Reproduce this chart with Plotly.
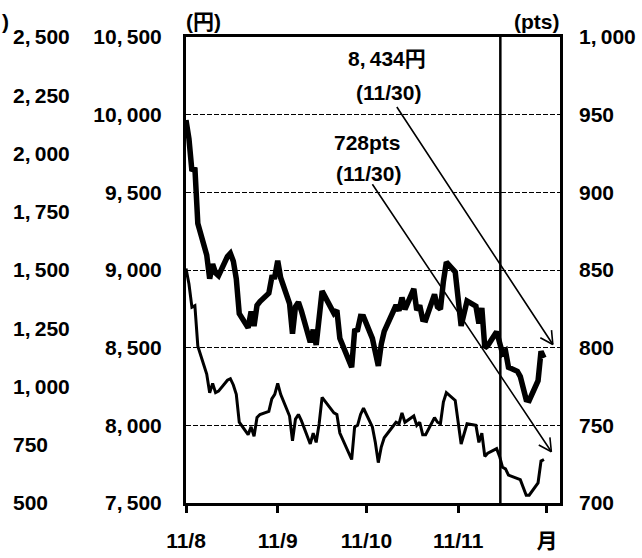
import math
import plotly.graph_objects as go

# Trading days, Aug-Nov 2011
aug = [1, 2, 3, 4, 5, 8, 9, 10, 11, 12, 15, 16, 17, 18, 19, 22, 23, 24, 25, 26, 29, 30, 31]
sep = [1, 2, 5, 6, 7, 8, 9, 12, 13, 14, 15, 16, 20, 21, 22, 26, 27, 28, 29, 30]
octo = [3, 4, 5, 6, 7, 11, 12, 13, 14, 17, 18, 19, 20, 21, 24, 25, 26, 27, 28, 31]
nov = [1, 2, 4, 7, 8, 9, 10, 11, 14, 15, 16, 17, 18, 21, 22, 24, 25, 28, 29, 30]
dates = ([f"2011-08-{d:02d}" for d in aug] + [f"2011-09-{d:02d}" for d in sep]
         + [f"2011-10-{d:02d}" for d in octo] + [f"2011-11-{d:02d}" for d in nov])

# Nikkei average (yen, left axis)
nikkei = [9965, 9844, 9637, 9659, 9299, 9097, 8944, 9038, 8981, 8963, 9086, 9107, 9057, 8943,
          8719, 8628, 8733, 8639, 8772, 8797, 8851, 8953, 8955,
          9060, 8950, 8784, 8590, 8763, 8793, 8737, 8535, 8616, 8518, 8668, 8864, 8721, 8741,
          8560, 8374, 8609, 8615, 8701, 8700,
          8560, 8456, 8382, 8522, 8605, 8773, 8738, 8823, 8747, 8879, 8741, 8772, 8682, 8678,
          8843, 8762, 8748, 8926, 9050, 8988,
          8835, 8640, 8801, 8767, 8655, 8755, 8500, 8514, 8603, 8541, 8463, 8479, 8374, 8348,
          8314, 8165, 8160, 8287, 8477, 8434]

# TOPIX (pts, right axis)
topix = [851, 841, 826, 827, 801, 783, 771, 777, 771, 772, 779, 780, 776, 770,
         752, 744, 749, 743, 755, 757, 759, 767, 770,
         777, 770, 756, 740, 754, 757, 753, 738, 745, 739, 751, 768, 758, 757,
         745, 728, 749, 750, 757, 761,
         749, 739, 726, 736, 742, 752, 751, 758, 752, 756, 750, 752, 744, 744,
         755, 752, 751, 765, 771, 766,
         752, 738, 751, 750, 739, 745, 730, 732, 735, 730, 723, 722, 718, 716,
         715, 705, 705, 713, 727, 728]

# Axis ticks
yen_ticks = [7500, 8000, 8500, 9000, 9500, 10000, 10500]
pts_ticks = [700, 750, 800, 850, 900, 950, 1000]
aux_ticks = [500, 750, 1000, 1250, 1500, 1750, 2000, 2250, 2500]
month_ticks = ["2011-08-01", "2011-09-01", "2011-10-01", "2011-11-01", "2011-12-01"]
month_labels = ["11/8", "11/9", "11/10", "11/11", "月"]


def fmt(v):
    return f"{v:,}".replace(",", ",\u2009")


FONT = "Liberation Sans, Arial, Noto Sans CJK JP, sans-serif"
FS = 21
W, H = 642, 558
ML, MR, MT, MB = 0, 82, 37, 55
PW = W - ML - MR
PH = H - MT - MB
X0 = 186  # left edge of the plotting frame


def px(x):
    return (x - ML) / PW


def py(y):
    return (H - MB - y) / PH


def tfont():
    return dict(family=FONT, size=FS, color="black", weight="bold")


fig = go.Figure()
fig.add_trace(go.Scatter(x=dates, y=nikkei, mode="lines", yaxis="y",
                         line=dict(color="black", width=5.5), hoverinfo="skip"))
fig.add_trace(go.Scatter(x=dates, y=topix, mode="lines", yaxis="y2",
                         line=dict(color="black", width=3), hoverinfo="skip"))
# carrier for the outer auxiliary scale
fig.add_trace(go.Scatter(x=[dates[0], dates[0]], y=[aux_ticks[0], aux_ticks[-1]], mode="lines",
                         yaxis="y3", line=dict(color="rgba(0,0,0,0)", width=0), hoverinfo="skip"))

# Separator line in mid-November
fig.add_shape(type="line", xref="x", yref="paper", x0="2011-11-15 06:00", x1="2011-11-15 06:00",
              y0=0, y1=1, line=dict(color="black", width=2.5))

annotations = []
# callout arrows: (tip date, tip yen, tail offset dx, dy in pixels)
arrows = [("2011-12-03", 8520, -157, -239), ("2011-12-02 12:00", 7830, -180, -269)]
for tx, ty, dx, dy in arrows:
    annotations.append(dict(x=tx, y=ty, xref="x", yref="y", ax=dx, ay=dy, text="",
                            showarrow=True, arrowhead=0, arrowwidth=1.6, arrowcolor="black",
                            standoff=0, startstandoff=0))
    n = math.hypot(dx, dy)
    bx, by = dx / n, dy / n
    for ang in (28, -28):
        a = math.radians(ang)
        rx = bx * math.cos(a) - by * math.sin(a)
        ry = bx * math.sin(a) + by * math.cos(a)
        annotations.append(dict(x=tx, y=ty, xref="x", yref="y", ax=rx * 16, ay=ry * 16, text="",
                                showarrow=True, arrowhead=0, arrowwidth=1.6, arrowcolor="black",
                                standoff=0, startstandoff=0))

labels = [("8,\u2009434円", 387, 59), ("(11/30)", 388, 92), ("728pts", 367, 142),
          ("(11/30)", 368, 174), ("(円)", 203, 22), ("(pts)", 537, 22)]
for t, x, y in labels:
    annotations.append(dict(text=t, x=px(x), y=py(y), xref="paper", yref="paper",
                            xanchor="center", yanchor="middle", showarrow=False,
                            font=tfont()))
annotations.append(dict(text=")", x=px(0), y=py(22), xref="paper", yref="paper",
                        xanchor="left", yanchor="middle", showarrow=False, font=tfont()))

fig.update_layout(
    template="none",
    width=W, height=H,
    margin=dict(l=ML, r=MR, t=MT, b=MB, pad=0, autoexpand=False),
    paper_bgcolor="white", plot_bgcolor="white",
    showlegend=False,
    font=tfont(),
    annotations=annotations,
    xaxis=dict(type="date", domain=[px(X0), 1], range=["2011-08-01", "2011-12-05 10:00"],
               tickvals=month_ticks, ticktext=month_labels, ticks="outside", ticklen=7,
               tickwidth=3, tickcolor="black", showline=True, linewidth=3, linecolor="black",
               mirror=True, showgrid=False, zeroline=False, ticklabelstandoff=10,
               automargin=False, tickfont=tfont()),
    yaxis=dict(range=[7500, 10500], tickvals=yen_ticks, ticktext=[fmt(v) for v in yen_ticks],
               ticks="", showline=True, linewidth=3, linecolor="black", mirror=True,
               showgrid=True, gridcolor="black", gridwidth=1, griddash="5px,2px",
               zeroline=False, ticklabelstandoff=17, automargin=False, tickfont=tfont()),
    yaxis2=dict(range=[700, 1000], overlaying="y", side="right", anchor="x",
                tickvals=pts_ticks, ticktext=[fmt(v) for v in pts_ticks], ticks="",
                showline=False, showgrid=False, zeroline=False, ticklabelstandoff=18,
                automargin=False, tickfont=tfont()),
    yaxis3=dict(range=[500, 2500], overlaying="y", side="right", anchor="free",
                position=px(12), tickvals=aux_ticks, ticktext=[fmt(v) for v in aux_ticks],
                ticks="", showline=False, showgrid=False, zeroline=False, automargin=False,
                tickfont=tfont()),
)

fig.write_html("out.html")
